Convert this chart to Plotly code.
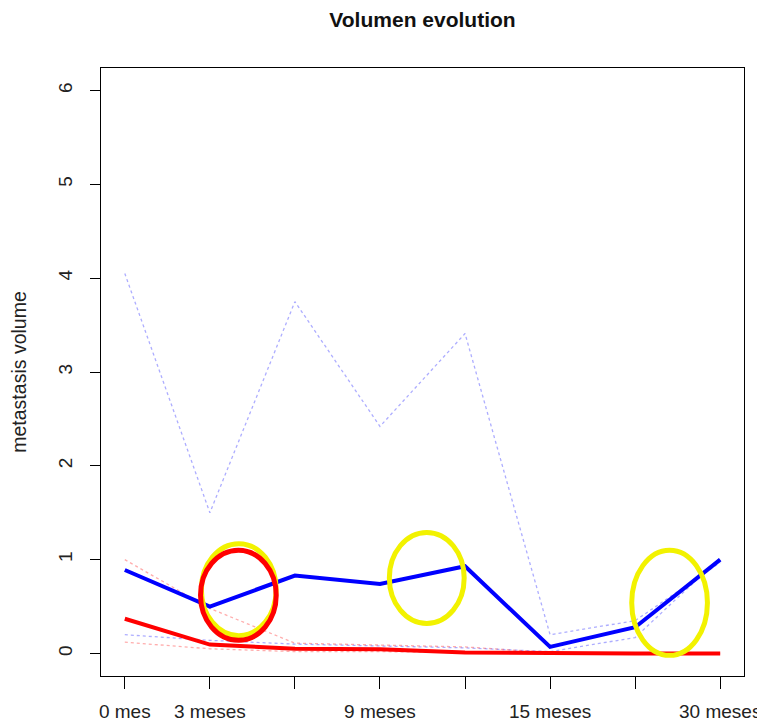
import plotly.graph_objects as go

# time points (index positions) and tick labels
time_idx = [1, 2, 3, 4, 5, 6, 7, 8]
tick_labels = ["0 mes", "3 meses", "", "9 meses", "", "15 meses", "", "30 meses"]
y_ticks = [0, 1, 2, 3, 4, 5, 6]

# mean curves
blue_mean = [0.89, 0.50, 0.83, 0.74, 0.93, 0.07, 0.28, 1.00]
red_mean = [0.37, 0.095, 0.05, 0.045, 0.01, 0.0, 0.0, 0.0]

# individual (dotted) curves
blue_ind_1 = [4.05, 1.50, 3.75, 2.42, 3.41, 0.20, 0.35, 0.97]
blue_ind_2 = [0.20, 0.14, 0.10, 0.08, 0.06, 0.02, 0.17, 1.02]
red_ind_1 = [1.00, 0.48, 0.11, 0.09, 0.07, 0.01, 0.0, 0.0]
red_ind_2 = [0.12, 0.05, 0.02, 0.02, 0.01, 0.0, 0.0, 0.0]

# highlight ellipses: (x0, x1, y0, y1, colour)
ellipses = [
    (1.90, 2.78, 0.19, 1.17, "#F2F200"),
    (1.89, 2.78, 0.14, 1.10, "#FF0000"),
    (4.11, 4.99, 0.32, 1.29, "#F2F200"),
    (6.96, 7.85, -0.02, 1.10, "#F2F200"),
]

fig = go.Figure()

dotted = [
    (blue_ind_1, "rgba(60,60,255,0.42)"),
    (blue_ind_2, "rgba(60,60,255,0.42)"),
    (red_ind_1, "rgba(255,60,60,0.42)"),
    (red_ind_2, "rgba(255,60,60,0.42)"),
]
for vals, col in dotted:
    fig.add_trace(go.Scatter(x=time_idx, y=vals, mode="lines",
                             line=dict(color=col, width=1.3, dash="dot"),
                             showlegend=False, hoverinfo="skip"))

fig.add_trace(go.Scatter(x=time_idx, y=blue_mean, mode="lines",
                         line=dict(color="#0000FF", width=4), showlegend=False))
fig.add_trace(go.Scatter(x=time_idx, y=red_mean, mode="lines",
                         line=dict(color="#FF0000", width=4), showlegend=False))

for x0, x1, y0, y1, col in ellipses:
    fig.add_shape(type="circle", xref="x", yref="y", x0=x0, x1=x1, y0=y0, y1=y1,
                  line=dict(color=col, width=5), layer="above")

font_family = "Liberation Sans, Arial, sans-serif"

# page has an 8px body margin, so the figure is drawn 8px smaller
W, H = 757, 716

fig.update_layout(
    width=W, height=H,
    margin=dict(l=93, r=21, t=60, b=48, autoexpand=False),
    paper_bgcolor="white", plot_bgcolor="white",
    font=dict(family=font_family, size=19, color="#222222"),
    title=dict(text="<b>Volumen evolution</b>", x=0.5, xref="paper",
               yref="container", y=1 - 12 / H, yanchor="middle",
               font=dict(family=font_family, size=21, color="#111111")),
    xaxis=dict(range=[0.72, 8.28], tickmode="array", tickvals=time_idx,
               ticktext=tick_labels, showgrid=False, zeroline=False,
               showline=True, linecolor="black", linewidth=1, mirror=True,
               ticks="outside", ticklen=12, tickcolor="black", tickwidth=1,
               ticklabelstandoff=6, tickfont=dict(size=19), automargin=False),
    yaxis=dict(range=[-0.24, 6.24], tickmode="array", tickvals=y_ticks,
               showgrid=False, zeroline=False,
               showline=True, linecolor="black", linewidth=1, mirror=True,
               ticks="outside", ticklen=10, tickcolor="black", tickwidth=1,
               tickangle=-90, ticklabelstandoff=10, tickfont=dict(size=19),
               automargin=False,
               title=dict(text="metastasis volume", standoff=25,
                          font=dict(size=19.5))),
)

fig.write_html("out.html")
